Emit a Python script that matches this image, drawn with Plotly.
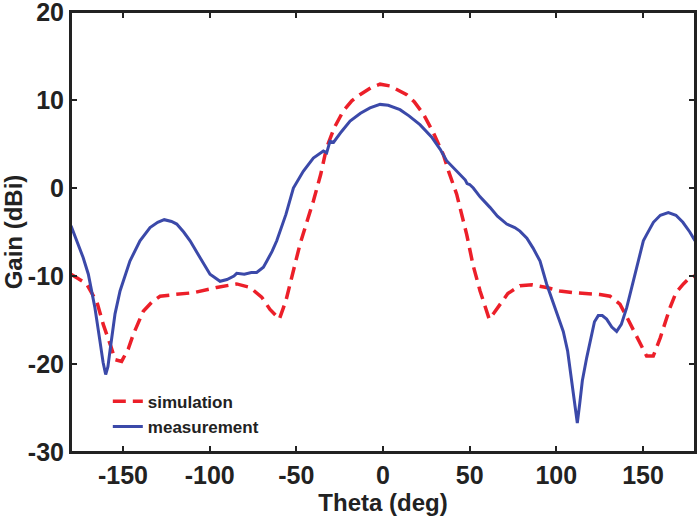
import plotly.graph_objects as go

# Simulation (red dashed)
sim_theta = [-180, -171, -165, -161.4, -157, -154.6, -150.8, -147, -144, -138.3, -133, -128.6, -120,
             -109.4, -96, -84.4, -76.7, -70, -65.2, -59.8, -56, -53.6, -49.8, -47.9, -44, -40.2,
             -36, -32.5, -28, -22.9, -18, -13.3, -7, -1.7, 4, 8, 13.7, 18, 23.3, 29, 34.8, 38,
             42.5, 48.3, 52, 56, 61.3, 64, 67.5, 72, 79, 86, 94.4, 102, 109.8, 118, 125.2, 131,
             136.7, 141, 146.4, 152.1, 155.9, 160, 165.6, 169, 173.3, 177, 180]
sim_gain = [-9.8, -10.9, -13.0, -15.5, -18.0, -19.5, -19.7, -18.3, -16.6, -14.0, -12.9, -12.3, -12.1,
            -11.9, -11.3, -10.9, -11.3, -12.4, -13.8, -14.9, -12.8, -10.9, -7.9, -6.4, -3.9, -1.5,
            1.5, 4.6, 6.9, 8.75, 9.9, 10.6, 11.4, 11.8, 11.6, 11.2, 10.6, 9.8, 8.4, 6.3, 3.8, 1.8,
            -0.7, -5.3, -8.8, -11.7, -14.9, -14.2, -13.2, -12.0, -11.1, -11.0, -11.3, -11.7, -11.9,
            -12.0, -12.1, -12.3, -13.2, -14.8, -17.0, -19.1, -19.1, -17.0, -13.6, -11.9, -10.9, -10.2, -10.0]

# Measurement (blue solid)
meas_theta = [-180, -176.7, -173, -170, -166.2, -163.3, -161.5, -160, -158.7, -157.5, -154.6, -151.7,
              -146, -140.2, -134.4, -130, -126.2, -122, -119, -115, -111.3, -105.6, -99.8, -94,
              -90, -86, -84.4, -80, -76, -72.9, -69, -67, -64, -61.3, -56, -51.7, -46, -40.2,
              -37, -34.4, -32.5, -30.6, -28.5, -26.7, -24, -19, -13, -7.5, -1.7, 3, 9.8, 15,
              21.3, 28, 33, 36.7, 41, 45, 47.5, 48.5, 50, 52.1, 56, 61.7, 66, 71.4, 76, 79,
              83, 86.5, 90.6, 94.4, 99, 104, 106.5, 108.9, 110.5, 112.1, 113.5, 115, 117.5,
              120, 122, 124.2, 126.5, 129, 132, 134.8, 137.5, 140.6, 145, 150.2, 152.1, 156,
              160, 164.6, 169, 173, 177, 180]
meas_gain = [-4.3, -6.0, -7.9, -9.8, -13.6, -17.4, -19.8, -21.2, -20.3, -18.5, -14.3, -11.7,
             -8.3, -6.0, -4.5, -3.9, -3.6, -3.8, -4.1, -5.0, -6.0, -7.9, -9.8, -10.6,
             -10.4, -10.0, -9.7, -9.8, -9.6, -9.6, -9.0, -8.3, -7.2, -6.0, -3.0, 0.0, 1.9, 3.4,
             3.9, 4.2, 4.0, 5.3, 5.2, 5.7, 6.4, 7.6, 8.5, 9.1, 9.5, 9.4, 8.9, 8.2,
             7.2, 5.8, 4.4, 3.1, 2.2, 1.3, 0.9, 0.5, 0.4, 0.0, -1.0, -2.2, -3.2, -4.1, -4.5, -4.9,
             -5.7, -6.8, -8.3, -10.9, -13.5, -16.3, -18.5, -21.9, -24.5, -26.7, -24.5, -21.9, -19.3,
             -16.8, -15.2, -14.5, -14.5, -14.9, -15.8, -16.3, -15.5, -13.6, -10.0, -6.0, -5.3, -3.9,
             -3.1, -2.8, -3.1, -3.9, -5.0, -6.0]

x_ticks = [-150, -100, -50, 0, 50, 100, 150]
y_ticks = [-30, -20, -10, 0, 10, 20]

RED = "#ec1f29"
BLUE = "#3b49a9"
AXC = "#222222"
FONT = "Liberation Sans, Arial, Helvetica, sans-serif"

fig = go.Figure()
fig.add_trace(go.Scatter(x=sim_theta, y=sim_gain, mode="lines", name="simulation",
                         line=dict(color=RED, width=3.5, dash="13px,7px")))
fig.add_trace(go.Scatter(x=meas_theta, y=meas_gain, mode="lines", name="measurement",
                         line=dict(color=BLUE, width=3)))

axis_common = dict(showline=True, linecolor=AXC, linewidth=2, mirror="ticks",
                   ticks="inside", ticklen=6, tickwidth=2, tickcolor=AXC,
                   showgrid=False, zeroline=False, automargin=False,
                   ticklabeloverflow="allow",
                   tickfont=dict(family=FONT, size=25, color=AXC, weight="bold"))

fig.update_layout(
    width=700, height=517,
    margin=dict(l=71, r=5, t=12, b=65),
    plot_bgcolor="white", paper_bgcolor="white",
    showlegend=True,
    xaxis=dict(range=[-180, 180], tickvals=x_ticks, ticktext=[str(v) for v in x_ticks],
               title=dict(text="Theta (deg)", standoff=0,
                          font=dict(family=FONT, size=24, color=AXC, weight="bold")),
               **axis_common),
    yaxis=dict(range=[-30, 20], tickvals=y_ticks, ticktext=[str(v) for v in y_ticks],
               title=dict(text="Gain (dBi)", standoff=6,
                          font=dict(family=FONT, size=24, color=AXC, weight="bold")),
               **axis_common),
    legend=dict(x=0.059, y=0.155, xanchor="left", yanchor="top",
                bgcolor="rgba(0,0,0,0)", borderwidth=0, tracegroupgap=0,
                font=dict(family=FONT, size=17, color=AXC, weight="bold")),
    shapes=[dict(type="rect", xref="paper", yref="paper", x0=0, y0=0, x1=1, y1=1,
                 line=dict(color=AXC, width=2), fillcolor="rgba(0,0,0,0)", layer="above")],
)

fig.write_html("out.html", config={"displayModeBar": False},
               post_script="document.body.style.margin='0';")
